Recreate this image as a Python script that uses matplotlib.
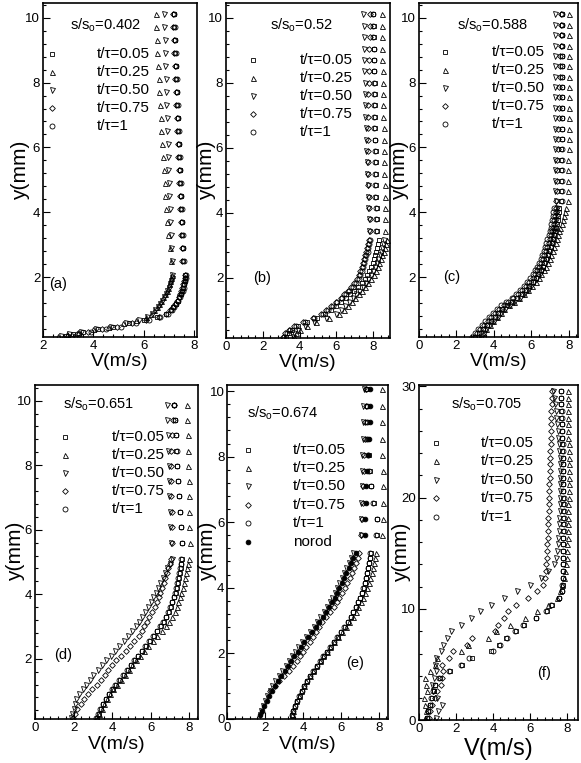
import matplotlib
matplotlib.use("Agg")
import matplotlib.pyplot as plt
from matplotlib.ticker import AutoMinorLocator
import numpy as np

plt.rcParams["font.family"] = ["Liberation Sans", "DejaVu Sans"]

na = np.nan

LABELS = ["t/τ=0.05", "t/τ=0.25", "t/τ=0.50", "t/τ=0.75", "t/τ=1", "norod"]

# ---------------- panel (a) s/so = 0.402 ----------------
y_a = [0.18, 0.24, 0.31, 0.39, 0.48, 0.58, 0.68, 0.78, 0.88, 0.98, 1.08, 1.18, 1.28, 1.38,
       1.48, 1.58, 1.68, 1.78, 1.88, 1.98, 2.08,
       2.5, 2.9, 3.3, 3.7, 4.1, 4.5, 4.9, 5.3, 5.7, 6.1, 6.5, 6.9, 7.3, 7.7, 8.1, 8.5, 8.9,
       9.3, 9.7, 10.1]
a_005 = [2.9, 3.2, 3.6, 4.2, 4.8, 5.4, 6.0, 6.55, 6.9, 7.08, 7.18, 7.27, 7.35, 7.42, 7.48,
         7.53, 7.57, 7.6, 7.63, 7.65, 7.66,
         7.57, 7.55, 7.53, 7.51, 7.49, 7.47, 7.45, 7.43, 7.41, 7.39, 7.37, 7.35, 7.33, 7.31,
         7.29, 7.27, 7.25, 7.23, 7.21, 7.19]
a_025 = [2.6, 2.95, 3.4, 4.0, 4.6, 5.2, 5.7, 6.1, 6.3, 6.43, 6.53, 6.62, 6.7, 6.78, 6.85,
         6.91, 6.97, 7.02, 7.06, 7.1, 7.13,
         7.08, 7.03, 6.98, 6.94, 6.9, 6.86, 6.83, 6.8, 6.77, 6.74, 6.71, 6.68, 6.65, 6.62,
         6.6, 6.57, 6.55, 6.53, 6.5, 6.48]
a_050 = [2.7, 3.05, 3.5, 4.1, 4.7, 5.3, 5.8, 6.15, 6.35, 6.47, 6.57, 6.66, 6.74, 6.81, 6.88,
         6.94, 6.99, 7.04, 7.08, 7.11, 7.14,
         7.12, 7.1, 7.08, 7.06, 7.04, 7.02, 7.0, 6.98, 6.96, 6.95, 6.93, 6.92, 6.9, 6.88,
         6.87, 6.85, 6.84, 6.83, 6.82, 6.8]
a_075 = [3.0, 3.35, 3.8, 4.35, 4.95, 5.55, 6.1, 6.6, 6.88, 7.05, 7.15, 7.24, 7.32, 7.39, 7.45,
         7.5, 7.54, 7.58, 7.61, 7.63, 7.64,
         7.53, 7.51, 7.49, 7.47, 7.45, 7.43, 7.41, 7.39, 7.37, 7.35, 7.33, 7.31, 7.29, 7.27,
         7.25, 7.23, 7.21, 7.19, 7.17, 7.15]
a_100 = [3.15, 3.45, 3.9, 4.5, 5.1, 5.7, 6.2, 6.65, 6.95, 7.12, 7.22, 7.3, 7.37, 7.44, 7.5,
         7.55, 7.59, 7.62, 7.65, 7.67, 7.68,
         7.59, 7.57, 7.55, 7.53, 7.51, 7.49, 7.47, 7.45, 7.43, 7.41, 7.39, 7.37, 7.35, 7.33,
         7.31, 7.29, 7.27, 7.25, 7.23, 7.21]

# ---------------- panel (b) s/so = 0.52 ----------------
y_b = [0.17, 0.29, 0.41, 0.53, 0.65, 0.77, 0.89, 1.01, 1.13, 1.25, 1.37, 1.49, 1.61, 1.73,
       1.85, 1.97, 2.09, 2.21, 2.33, 2.45, 2.57, 2.69, 2.81, 2.93, 3.05, 3.15,
       3.45, 3.8, 4.15, 4.5, 4.85, 5.2, 5.55, 5.9, 6.25, 6.6, 6.95, 7.3, 7.65, 8.0, 8.35,
       8.7, 9.05, 9.4, 9.75, 10.1]
b_005 = [3.25, 3.4, 3.6, 3.92, 4.4, 4.95, 5.4, 5.72, 6.0, 6.27, 6.53, 6.75, 6.97, 7.17, 7.36,
         7.55, 7.66, 7.77, 7.87, 7.96, 8.04, 8.11, 8.17, 8.22, 8.27, 8.3,
         8.2, 8.19, 8.18, 8.17, 8.16, 8.15, 8.14, 8.13, 8.12, 8.11, 8.1, 8.09, 8.08, 8.07,
         8.06, 8.05, 8.04, 8.03, 8.02, 8.01]
b_025 = [3.72, 3.82, 4.0, 4.4, 4.9, 5.6, 6.15, 6.4, 6.6, 6.82, 7.02, 7.2, 7.37, 7.55, 7.72,
         7.9, 8.02, 8.13, 8.23, 8.33, 8.42, 8.5, 8.57, 8.63, 8.69, 8.73,
         8.65, 8.64, 8.63, 8.62, 8.61, 8.6, 8.59, 8.58, 8.57, 8.56, 8.55, 8.54, 8.53, 8.52,
         8.51, 8.5, 8.49, 8.48, 8.47, 8.46]
b_050 = [3.62, 3.72, 3.9, 4.3, 4.8, 5.45, 5.95, 6.25, 6.48, 6.7, 6.9, 7.08, 7.25, 7.42, 7.58,
         7.73, 7.86, 7.98, 8.09, 8.19, 8.28, 8.36, 8.43, 8.49, 8.55, 8.6,
         7.77, 7.75, 7.73, 7.71, 7.69, 7.67, 7.65, 7.63, 7.61, 7.59, 7.57, 7.56, 7.54, 7.53,
         7.51, 7.5, 7.49, 7.48, 7.47, 7.46]
b_075 = [3.1, 3.22, 3.42, 3.72, 4.2, 4.7, 5.15, 5.45, 5.72, 5.97, 6.22, 6.42, 6.62, 6.8, 6.97,
         7.13, 7.22, 7.3, 7.37, 7.43, 7.49, 7.55, 7.61, 7.66, 7.71, 7.75,
         7.83, 7.8, 7.78, 7.76, 7.74, 7.72, 7.71, 7.7, 7.7, 7.7, 7.71, 7.72, 7.73, 7.75,
         7.76, 7.78, 7.79, 7.81, 7.82, 7.83]
b_100 = [3.17, 3.3, 3.5, 3.8, 4.3, 4.8, 5.25, 5.55, 5.8, 6.05, 6.3, 6.5, 6.7, 6.88, 7.05,
         7.22, 7.3, 7.38, 7.45, 7.51, 7.57, 7.63, 7.69, 7.74, 7.79, 7.83,
         8.15, 8.14, 8.13, 8.12, 8.11, 8.1, 8.09, 8.08, 8.07, 8.06, 8.05, 8.05, 8.04, 8.03,
         8.03, 8.02, 8.02, 8.01, 8.0, 8.0]

# ---------------- panel (c) s/so = 0.588 ----------------
y_c = [0.17, 0.29, 0.41, 0.53, 0.65, 0.77, 0.89, 1.01, 1.13, 1.25, 1.37, 1.49, 1.61, 1.73,
       1.85, 1.97, 2.09, 2.21, 2.33, 2.45, 2.57, 2.69, 2.81, 2.93, 3.05, 3.17, 3.29, 3.41,
       3.53, 3.65, 3.77, 3.89, 4.01, 4.13,
       4.34, 4.66, 4.98, 5.3, 5.62, 5.94, 6.26, 6.58, 6.9, 7.22, 7.54, 7.86, 8.18, 8.5,
       8.82, 9.14, 9.46, 9.78, 10.1]
c_005 = [3.0, 3.2, 3.4, 3.62, 3.85, 4.05, 4.25, 4.45, 4.7, 4.95, 5.25, 5.5, 5.7, 5.9, 6.08,
         6.25, 6.38, 6.5, 6.6, 6.7, 6.8, 6.88, 6.96, 7.03, 7.1, 7.16, 7.22, 7.28, 7.33, 7.37,
         7.41, 7.45, 7.48, 7.5,
         7.58, 7.59, 7.6, 7.6, 7.61, 7.61, 7.62, 7.62, 7.63, 7.63, 7.64, 7.64, 7.65, 7.65,
         7.65, 7.66, 7.66, 7.66, 7.66]
c_025 = [3.25, 3.4, 3.57, 3.77, 3.97, 4.17, 4.37, 4.57, 4.82, 5.07, 5.37, 5.62, 5.85, 6.05,
         6.23, 6.4, 6.54, 6.67, 6.78, 6.88, 6.98, 7.07, 7.15, 7.23, 7.3, 7.37, 7.44, 7.5,
         7.56, 7.62, 7.68, 7.74, 7.8, 7.85,
         7.97, 7.97, 7.98, 7.98, 7.98, 7.99, 7.99, 7.99, 8.0, 8.0, 8.0, 8.0, 8.01, 8.01,
         8.01, 8.02, 8.02, 8.02, 8.02]
c_050 = [3.3, 3.45, 3.6, 3.8, 4.0, 4.2, 4.4, 4.6, 4.85, 5.1, 5.4, 5.62, 5.82, 6.0, 6.17,
         6.33, 6.45, 6.56, 6.65, 6.74, 6.82, 6.9, 6.97, 7.03, 7.09, 7.14, 7.19, 7.23, 7.27,
         7.3, 7.33, 7.36, 7.38, 7.4,
         7.3, 7.29, 7.29, 7.28, 7.28, 7.27, 7.27, 7.27, 7.26, 7.26, 7.26, 7.26, 7.25, 7.25,
         7.25, 7.25, 7.25, 7.25, 7.25]
c_075 = [2.95, 3.1, 3.27, 3.47, 3.67, 3.87, 4.07, 4.27, 4.52, 4.77, 5.05, 5.3, 5.52, 5.72,
         5.9, 6.07, 6.2, 6.32, 6.42, 6.52, 6.62, 6.7, 6.78, 6.85, 6.92, 6.98, 7.04, 7.1,
         7.15, 7.19, 7.23, 7.27, 7.3, 7.32,
         7.34, 7.35, 7.36, 7.38, 7.4, 7.42, 7.44, 7.45, 7.46, 7.47, 7.48, 7.5, 7.52, 7.54,
         7.56, 7.57, 7.58, 7.59, 7.6]
c_100 = [2.85, 3.0, 3.15, 3.35, 3.55, 3.75, 3.95, 4.15, 4.4, 4.65, 4.95, 5.2, 5.4, 5.6, 5.78,
         5.95, 6.08, 6.2, 6.3, 6.4, 6.5, 6.58, 6.66, 6.73, 6.8, 6.86, 6.92, 6.98, 7.03, 7.07,
         7.11, 7.15, 7.18, 7.2,
         7.62, 7.62, 7.63, 7.63, 7.63, 7.64, 7.64, 7.64, 7.65, 7.65, 7.65, 7.65, 7.66, 7.66,
         7.66, 7.66, 7.66, 7.66, 7.66]

# ---------------- panel (d) s/so = 0.651 ----------------
y_d = [0.15, 0.3, 0.45, 0.6, 0.75, 0.9, 1.05, 1.2, 1.35, 1.5, 1.65, 1.8, 1.95, 2.1, 2.25,
       2.4, 2.55, 2.7, 2.85, 3.0, 3.15, 3.3, 3.45, 3.6, 3.75, 3.9, 4.05, 4.2, 4.35, 4.5,
       4.65, 4.8, 4.95, 5.1,
       5.6, 6.08, 6.55, 7.03, 7.5, 7.98, 8.45, 8.93, 9.4, 9.88]
d_005 = [3.2, 3.3, 3.42, 3.55, 3.7, 3.86, 4.02, 4.2, 4.4, 4.6, 4.8, 4.99, 5.17, 5.35, 5.55,
         5.75, 5.95, 6.15, 6.33, 6.51, 6.66, 6.8, 6.92, 7.03, 7.12, 7.2, 7.28, 7.35, 7.41,
         7.46, 7.5, 7.54, 7.57, 7.6,
         7.6, 7.55, 7.5, 7.45, 7.4, 7.36, 7.32, 7.28, 7.24, 7.2]
d_025 = [3.22, 3.32, 3.45, 3.6, 3.75, 3.9, 4.06, 4.24, 4.44, 4.65, 4.86, 5.05, 5.24, 5.44,
         5.66, 5.88, 6.1, 6.34, 6.56, 6.78, 6.96, 7.12, 7.24, 7.34, 7.43, 7.51, 7.58, 7.65,
         7.71, 7.77, 7.83, 7.88, 7.93, 7.97,
         8.02, 8.0, 7.98, 7.97, 7.96, 7.95, 7.94, 7.92, 7.9, 7.88]
d_050 = [1.85, 1.92, 2.0, 2.08, 2.15, 2.3, 2.48, 2.67, 2.85, 3.03, 3.25, 3.48, 3.7, 3.93,
         4.15, 4.38, 4.6, 4.82, 5.03, 5.22, 5.4, 5.57, 5.72, 5.87, 6.0, 6.13, 6.26, 6.38,
         6.5, 6.62, 6.74, 6.86, 6.98, 7.1,
         7.05, 7.02, 6.99, 6.96, 6.94, 6.92, 6.9, 6.88, 6.86, 6.84]
d_075 = [1.95, 2.06, 2.2, 2.38, 2.56, 2.76, 2.98, 3.2, 3.42, 3.62, 3.8, 3.97, 4.18, 4.45,
         4.7, 4.93, 5.15, 5.37, 5.52, 5.66, 5.8, 5.93, 6.06, 6.2, 6.3, 6.4, 6.5, 6.6, 6.68,
         6.76, 6.84, 6.91, 6.98, 7.05,
         7.12, 7.1, 7.08, 7.07, 7.06, 7.05, 7.07, 7.1, 7.14, 7.18]
d_100 = [3.15, 3.25, 3.38, 3.52, 3.67, 3.83, 3.99, 4.17, 4.37, 4.58, 4.78, 4.96, 5.14, 5.32,
         5.52, 5.72, 5.92, 6.12, 6.3, 6.48, 6.63, 6.78, 6.9, 7.0, 7.1, 7.18, 7.26, 7.32,
         7.38, 7.43, 7.48, 7.52, 7.55, 7.58,
         7.62, 7.57, 7.52, 7.47, 7.42, 7.38, 7.34, 7.3, 7.25, 7.22]

# ---------------- panel (e) s/so = 0.674 ----------------
y_e = [0.1, 0.25, 0.4, 0.55, 0.7, 0.85, 1.0, 1.15, 1.3, 1.45, 1.6, 1.75, 1.9, 2.05, 2.2,
       2.35, 2.5, 2.65, 2.8, 2.95, 3.1, 3.25, 3.4, 3.55, 3.7, 3.85, 4.0, 4.15, 4.3, 4.45,
       4.6, 4.75, 4.9, 5.05,
       5.6, 6.1, 6.6, 7.1, 7.55, 8.05, 8.55, 9.05, 9.55, 10.05]
e_005 = [3.45, 3.5, 3.6, 3.7, 3.83, 3.95, 4.08, 4.23, 4.4, 4.57, 4.75, 4.93, 5.1, 5.28, 5.46,
         5.65, 5.85, 6.03, 6.21, 6.38, 6.54, 6.67, 6.8, 6.92, 7.02, 7.12, 7.22, 7.29, 7.35,
         7.41, 7.46, 7.51, 7.55, 7.59,
         7.9, 7.93, 7.74, 7.62, 7.52, 7.47, 7.42, 7.4, 7.38, 7.37]
e_025 = [3.4, 3.46, 3.55, 3.66, 3.78, 3.9, 4.04, 4.18, 4.35, 4.53, 4.71, 4.89, 5.07, 5.25,
         5.44, 5.64, 5.85, 6.05, 6.25, 6.45, 6.62, 6.78, 6.93, 7.06, 7.18, 7.29, 7.39, 7.48,
         7.56, 7.63, 7.7, 7.76, 7.81, 7.85,
         8.18, 8.22, 8.24, 8.24, 8.22, 8.2, 8.2, 8.19, 8.18, 8.18]
e_050 = [1.72, 1.8, 1.9, 2.0, 2.12, 2.25, 2.38, 2.53, 2.72, 2.9, 3.09, 3.26, 3.42, 3.58,
         3.75, 3.93, 4.15, 4.37, 4.58, 4.75, 4.92, 5.1, 5.27, 5.42, 5.55, 5.68, 5.8, 5.92,
         6.05, 6.17, 6.3, 6.42, 6.54, 6.66,
         7.05, 7.07, 7.09, 7.1, 7.12, 7.14, 7.16, 7.17, 7.19, 7.21]
e_075 = [na, na, na, na, na, 2.25, 2.5, 2.75, 3.0, 3.27, 3.48, 3.67, 3.85, 4.0, 4.18, 4.36,
         4.54, 4.7, 4.87, 5.03, 5.22, 5.42, 5.62, 5.78, 5.93, 6.07, 6.2, 6.33, 6.48, 6.6,
         6.7, 6.8, 6.9, 6.97,
         7.05, 7.1, 7.15, 7.18, 7.22, 7.25, 7.28, 7.3, 7.33, 7.35]
e_100 = [3.42, 3.48, 3.58, 3.68, 3.8, 3.93, 4.06, 4.2, 4.37, 4.54, 4.72, 4.9, 5.07, 5.25,
         5.43, 5.62, 5.82, 6.0, 6.18, 6.36, 6.52, 6.65, 6.78, 6.9, 7.0, 7.1, 7.2, 7.27, 7.33,
         7.39, 7.44, 7.49, 7.53, 7.57,
         7.88, 7.92, 7.72, 7.6, 7.5, 7.45, 7.4, 7.38, 7.36, 7.35]
e_norod = [1.75, 1.85, 1.97, 2.08, 2.22, 2.36, 2.5, 2.66, 2.85, 3.03, 3.21, 3.38, 3.55, 3.72,
           3.9, 4.08, 4.28, 4.5, 4.7, 4.87, 5.05, 5.23, 5.4, 5.55, 5.68, 5.81, 5.93, 6.05,
           6.18, 6.3, 6.43, 6.55, 6.67, 6.79,
           7.3, 7.3, 7.32, 7.35, 7.4, 7.45, 7.5, 7.53, 7.55, 7.57]

# ---------------- panel (f) s/so = 0.705 ----------------
y_f = [0.2, 0.8, 1.4, 2.0, 2.6, 3.2, 3.8, 4.4, 5.0, 5.6, 6.2, 6.8, 7.4, 8.0, 8.6, 9.2, 9.8,
       10.4, 11.0, 11.6, 12.2, 12.8,
       13.4, 14.0, 14.6, 15.2, 15.8, 16.4, 17.0, 17.6, 18.2, 18.8, 19.4, 20.0, 20.6, 21.2,
       21.8, 22.4, 23.0, 23.6, 24.2, 24.8, 25.4, 26.0, 26.6, 27.2, 27.8, 28.4, 29.0, 29.6]
f_005 = [0.45, 0.48, 0.62, 0.7, 0.8, 0.88, 1.15, 1.7, 2.35, 2.85, 3.9, 4.35, 4.7, 5.25, 5.7,
         6.35, 6.9, 7.2, 7.58, 7.74, 7.77, 7.8,
         7.76, 7.77, 7.78, 7.78, 7.79, 7.79, 7.8, 7.8, 7.8, 7.8, 7.8, 7.8, 7.79, 7.79, 7.78,
         7.78, 7.77, 7.76, 7.75, 7.74, 7.73, 7.72, 7.71, 7.7, 7.69, 7.68, 7.67, 7.66]
f_025 = [0.35, 0.4, 0.35, 0.3, 0.45, 0.4, 0.35, 0.6, 0.85, 1.0, 2.27, 2.66, 3.75, 4.19, 4.9,
         5.75, 6.38, 7.0, 7.45, 7.6, 7.75, 7.85,
         7.9, 7.95, 7.98, 8.0, 8.02, 8.04, 8.05, 8.06, 8.07, 8.08, 8.08, 8.09, 8.09, 8.1,
         8.1, 8.1, 8.1, 8.1, 8.09, 8.09, 8.08, 8.08, 8.07, 8.06, 8.05, 8.05, 8.04, 8.03]
f_050 = [0.95, 1.05, 1.25, 1.0, 0.75, 0.7, 0.8, 0.9, 0.85, 0.95, 1.2, 1.3, 1.5, 1.72, 2.25,
         2.8, 3.3, 3.9, 4.6, 5.3, 6.0, 6.6,
         7.0, 7.3, 7.4, 7.45, 7.5, 7.53, 7.55, 7.57, 7.58, 7.6, 7.6, 7.61, 7.61, 7.62, 7.62,
         7.62, 7.61, 7.6, 7.58, 7.56, 7.53, 7.5, 7.46, 7.42, 7.38, 7.34, 7.3, 7.27]
f_075 = [0.55, 0.6, 0.7, 0.85, 1.0, 1.2, 1.25, 1.3, 1.25, 1.64, 1.82, 2.6, 2.86, 4.1, 4.3,
         4.6, 4.82, 5.27, 5.91, 6.36, 6.69, 6.8,
         6.85, 6.88, 6.9, 6.92, 6.94, 6.96, 6.98, 6.99, 7.0, 7.01, 7.02, 7.03, 7.04, 7.05,
         7.06, 7.07, 7.08, 7.09, 7.1, 7.11, 7.12, 7.13, 7.14, 7.15, 7.16, 7.17, 7.18, 7.2]
f_100 = [0.42, 0.5, 0.6, 0.68, 0.77, 0.86, 1.1, 1.65, 2.3, 2.7, 4.0, 4.4, 4.75, 5.2, 5.65,
         6.3, 6.85, 7.15, 7.55, 7.72, 7.75, 7.78,
         7.78, 7.79, 7.8, 7.8, 7.81, 7.81, 7.82, 7.82, 7.82, 7.82, 7.82, 7.82, 7.81, 7.81,
         7.8, 7.8, 7.79, 7.78, 7.77, 7.76, 7.75, 7.74, 7.73, 7.72, 7.71, 7.7, 7.69, 7.68]

# marker style per series: (marker, size, filled)
STYLES = [("s", 3.0, False), ("^", 3.6, False), ("v", 3.6, False),
          ("D", 2.9, False), ("o", 3.6, False), ("o", 3.4, True)]


# draws one panel: data, ticks, manual legend and labels
def draw_panel(rect, y, series, ratio, tag, xlim, ylim, xticks, yticks,
               so_pos, tag_pos, leg, xl_y, yl_x, xl_size=14):
    ax = fig.add_axes(rect)
    for i, vals in enumerate(series):
        m, ms, filled = STYLES[i]
        ax.plot(vals, y, ls="none", marker=m, ms=ms, mec="k",
                mfc="k" if filled else "none", mew=0.6)
    ax.set_xlim(*xlim)
    ax.set_ylim(*ylim)
    ax.set_xticks(xticks)
    ax.set_yticks(yticks)
    ax.xaxis.set_minor_locator(AutoMinorLocator(5))
    ax.yaxis.set_minor_locator(AutoMinorLocator(5))
    ax.tick_params(which="both", direction="in", top=False, right=False,
                   labelsize=9.5, pad=2, width=0.8)
    ax.tick_params(which="major", length=5)
    ax.tick_params(which="minor", length=2.5)
    for s in ax.spines.values():
        s.set_linewidth(1.2)
    ax.set_xlabel("V(m/s)", fontsize=xl_size)
    ax.set_ylabel("y(mm)", fontsize=15)
    ax.xaxis.set_label_coords(0.5, xl_y)
    ax.yaxis.set_label_coords(yl_x, 0.5)

    ax.text(so_pos[0], so_pos[1], ratio, transform=ax.transAxes,
            fontsize=10.5, va="center")
    ax.text(tag_pos[0], tag_pos[1], tag, transform=ax.transAxes,
            fontsize=10.5, va="center")

    # legend drawn by hand, tecplot style
    mx, tx, y0, dy = leg
    for i in range(len(series)):
        m, ms, filled = STYLES[i]
        yy = y0 - i * dy
        ax.plot([mx], [yy], ls="none", marker=m, ms=ms, mec="k",
                mfc="k" if filled else "none", mew=0.6,
                transform=ax.transAxes, clip_on=False)
        ax.text(tx, yy, LABELS[i], transform=ax.transAxes, fontsize=11, va="center")
    return ax


fig = plt.figure(figsize=(5.81, 7.63), dpi=100)

draw_panel([0.074, 0.558, 0.265, 0.438], y_a, [a_005, a_025, a_050, a_075, a_100],
           r"s/s$_\mathregular{o}$=0.402", "(a)", (2, 8.12), (0.15, 10.45),
           [2, 4, 6, 8], [2, 4, 6, 8, 10],
           (0.175, 0.934), (0.04, 0.16), (0.058, 0.35, 0.847, 0.054), -0.048, -0.085)

draw_panel([0.389, 0.557, 0.282, 0.439], y_b, [b_005, b_025, b_050, b_075, b_100],
           r"s/s$_\mathregular{o}$=0.52", "(b)", (0, 8.9), (0.15, 10.45),
           [0, 2, 4, 6, 8], [2, 4, 6, 8, 10],
           (0.27, 0.934), (0.165, 0.18), (0.165, 0.45, 0.83, 0.054), -0.048, -0.062)

draw_panel([0.721, 0.558, 0.274, 0.438], y_c, [c_005, c_025, c_050, c_075, c_100],
           r"s/s$_\mathregular{o}$=0.588", "(c)", (0, 8.5), (0.15, 10.45),
           [0, 2, 4, 6, 8], [2, 4, 6, 8, 10],
           (0.24, 0.934), (0.15, 0.18), (0.164, 0.46, 0.855, 0.054), -0.048, -0.065)

draw_panel([0.060, 0.058, 0.281, 0.438], y_d, [d_005, d_025, d_050, d_075, d_100],
           r"s/s$_\mathregular{o}$=0.651", "(d)", (0, 8.45), (0.14, 10.5),
           [0, 2, 4, 6, 8], [2, 4, 6, 8, 10],
           (0.17, 0.94), (0.12, 0.19), (0.184, 0.47, 0.843, 0.054), -0.052, -0.06)

draw_panel([0.391, 0.058, 0.277, 0.438], y_e,
           [e_005, e_025, e_050, e_075, e_100, e_norod],
           r"s/s$_\mathregular{o}$=0.674", "(e)", (0, 8.5), (0, 10.2),
           [0, 2, 4, 6, 8], [0, 2, 4, 6, 8, 10],
           (0.122, 0.915), (0.74, 0.168), (0.13, 0.41, 0.805, 0.055), -0.052, -0.062)

draw_panel([0.721, 0.056, 0.274, 0.439], y_f, [f_005, f_025, f_050, f_075, f_100],
           r"s/s$_\mathregular{o}$=0.705", "(f)", (0, 8.6), (0, 30.1),
           [0, 2, 4, 6, 8], [0, 10, 20, 30],
           (0.2, 0.943), (0.74, 0.14), (0.11, 0.39, 0.828, 0.055), -0.052, -0.05,
           xl_size=17)

fig.savefig("out.png", dpi=100)
